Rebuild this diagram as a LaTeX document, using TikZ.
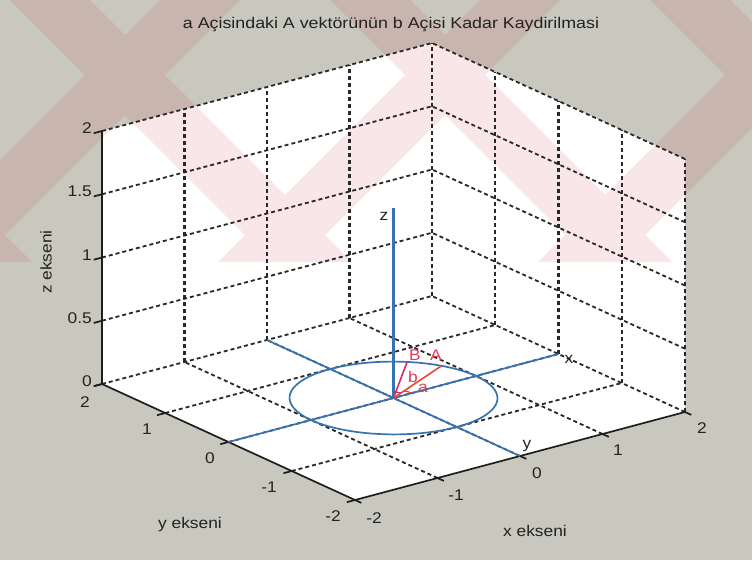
\documentclass[tikz,border=0pt]{standalone}
\usepackage{fontspec}
\setmainfont{Liberation Sans}
\definecolor{bggray}{RGB}{200,200,190}
\definecolor{txtgray}{RGB}{35,35,35}
\definecolor{gridc}{RGB}{40,40,40}
\definecolor{axc}{RGB}{30,30,30}
\definecolor{mblue}{RGB}{55,115,175}
\definecolor{vecA}{RGB}{232,72,52}
\definecolor{vecB}{RGB}{215,45,100}
\definecolor{lblred}{RGB}{228,60,90}
\definecolor{wmred}{RGB}{200,30,50}
\newcommand{\wtxt}[1]{\scalebox{1.12}[1]{#1}}
\begin{document}
\begin{tikzpicture}[x=1pt,y=-1pt,
  lbl/.style={font=\fontsize{15.5}{18}\selectfont, text=txtgray, inner sep=0pt},
  redlbl/.style={font=\fontsize{15.5}{18}\selectfont, text=lblred, inner sep=0pt},
  gridln/.style={draw=gridc, line width=1.8pt, dash pattern=on 4pt off 3pt},
  vgridln/.style={gridln, line width=2.3pt},
  axln/.style={draw=axc, line width=1.7pt},
  blueln/.style={draw=mblue, line width=1.7pt},
  wm/.style={fill=wmred, fill opacity=0.11}]
\fill[bggray] (0,0) rectangle (752,560);
\useasboundingbox (0,0) rectangle (752,560);
% plot box walls
\begin{scope}[shift={(393.5,398)}, x={(82.5pt,22pt)}, y={(-63.25pt,29pt)}, z={(0pt,126.5pt)}]
  \fill[white] (-2,-2,0) -- (2,-2,0) -- (2,-2,2) -- (2,2,2) -- (-2,2,2) -- (-2,2,0) -- cycle;
\end{scope}
% watermark
\begin{scope}
  \clip (0,0) rectangle (752,262);
  \fill[wm]
    \foreach \a in {-310,10,330,650} {(\a,0) -- (\a+80,0) -- (\a+342,262) -- (\a+262,262) -- cycle}
    \foreach \b in {160,480,800,1120} {(\b-262,262) -- (\b,0) -- (\b+80,0) -- (\b-182,262) -- cycle};
\end{scope}
\begin{scope}[shift={(393.5,398)}, x={(82.5pt,22pt)}, y={(-63.25pt,29pt)}, z={(0pt,126.5pt)}]
  % grid
  \foreach \v in {-1,0,1,2} \draw[gridln] (\v,-2,0) -- (\v,2,0);
  \foreach \v in {-1,0,1,2} \draw[gridln] (-2,\v,0) -- (2,\v,0);
  \foreach \v in {-1,0,1,2} \draw[vgridln] (\v,2,0) -- (\v,2,2);
  \foreach \v in {0.5,1,1.5,2} \draw[gridln] (-2,2,\v) -- (2,2,\v);
  \foreach \v in {-2,-1,0,1} \draw[vgridln] (2,\v,0) -- (2,\v,2);
  \foreach \v in {0.5,1,1.5,2} \draw[gridln] (2,-2,\v) -- (2,2,\v);
  % axes
  \coordinate (ztop) at (-2,2,2);
  \coordinate (corL) at (-2,2,0);
  \coordinate (corF) at (-2,-2,0);
  \coordinate (corR) at (2,-2,0);
  \draw[axln, line width=2.1pt] (ztop) -- (corL);
  \draw[axln] (corL) -- (corF) -- (corR);
  \foreach \v in {0,0.5,1,1.5,2} \draw[axln] (-2,2,\v) -- ++(-0.1,0,0);
  \foreach \v in {-2,-1,0,1,2} \draw[axln] (-2,\v,0) -- ++(-0.1,0,0);
  \foreach \v in {-2,-1,0,1,2} \draw[axln] (\v,-2,0) -- ++(0,-0.1,0);
  % blue axes and circle
  \coordinate (O) at (0,0,0);
  \coordinate (xe) at (2,0,0);
  \coordinate (xs) at (-2,0,0);
  \coordinate (ye) at (0,-2,0);
  \coordinate (ys) at (0,2,0);
  \coordinate (ze) at (0,0,1.5);
  \draw[blueln] (xs) -- (xe);
  \draw[blueln] (ys) -- (ye);
  \draw[blueln, line width=2.1pt] (O) -- (ze);
  \draw[blueln] plot[domain=0:360, samples=91, smooth] ({cos(\x)},{sin(\x)},0);
  % vectors
  \coordinate (Ae) at ({cos(25)},{sin(25)},0);
  \coordinate (Be) at ({cos(45)},{sin(45)},0);
  \draw[vecA, line width=1.6pt] (O) -- (Ae);
  \draw[vecB, line width=1.6pt] (O) -- (Be);
  \draw[vecA, line width=1.2pt] plot[domain=0:25, samples=8, smooth] ({0.22*cos(\x)},{0.22*sin(\x)},0);
  \draw[vecB, line width=1.2pt] plot[domain=25:45, samples=8, smooth] ({0.16*cos(\x)},{0.16*sin(\x)},0);
\end{scope}
% title
\node[lbl] (title) at (391,25) {\scalebox{1.15}[1]{a Açisindaki A vektörünün b Açisi Kadar Kaydirilmasi}};
% z tick labels
\node[lbl, anchor=east] (z0) at (92,381) {\wtxt{0}};
\node[lbl, anchor=east] (z05) at (92,318) {\wtxt{0.5}};
\node[lbl, anchor=east] (z1) at (92,255) {\wtxt{1}};
\node[lbl, anchor=east] (z15) at (92,191) {\wtxt{1.5}};
\node[lbl, anchor=east] (z2) at (92,128) {\wtxt{2}};
\node[lbl, rotate=90] (zlab) at (46,262) {\wtxt{z ekseni}};
% y tick labels
\node[lbl] (y2) at (85,402) {\wtxt{2}};
\node[lbl] (y1) at (147,429) {\wtxt{1}};
\node[lbl] (y0) at (210,458) {\wtxt{0}};
\node[lbl] (ym1) at (269,487) {\wtxt{-1}};
\node[lbl] (ym2) at (333,516) {\wtxt{-2}};
\node[lbl] (ylab) at (190,524) {\wtxt{y ekseni}};
% x tick labels
\node[lbl] (xm2) at (374,518) {\wtxt{-2}};
\node[lbl] (xm1) at (456,495) {\wtxt{-1}};
\node[lbl] (x0) at (537,473) {\wtxt{0}};
\node[lbl] (x1) at (618,450) {\wtxt{1}};
\node[lbl] (x2) at (702,428) {\wtxt{2}};
\node[lbl] (xlab) at (535,531) {\wtxt{x ekseni}};
% axis letters
\node[lbl] (zl) at (384,216) {\wtxt{z}};
\node[lbl] (xl) at (569,359) {\wtxt{x}};
\node[lbl] (yl) at (527,446) {\wtxt{y}};
% red labels
\node[redlbl] (Bl) at (415,355) {\wtxt{B}};
\node[redlbl] (Al) at (436,355) {\wtxt{A}};
\node[redlbl] (bl) at (413,377) {\wtxt{b}};
\node[redlbl] (al) at (423,388) {\wtxt{a}};
\end{tikzpicture}
\end{document}
